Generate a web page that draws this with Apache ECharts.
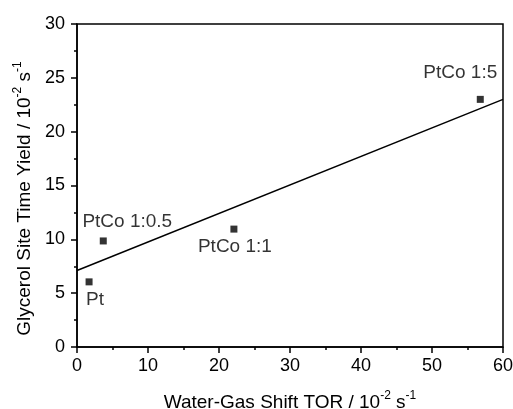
<!DOCTYPE html>
<html>
<head>
<meta charset="utf-8">
<script src="https://cdn.jsdelivr.net/npm/echarts@6/dist/echarts.min.js"></script>
<style>
  html, body { margin: 0; padding: 0; background: #fff; }
  #chart { width: 513px; height: 409px; }
</style>
</head>
<body>
<div id="chart"></div>
<script>
// catalysts and values
var catalystNames = ['Pt', 'PtCo 1:0.5', 'PtCo 1:1', 'PtCo 1:5'];
var wgsTor = [1.7, 3.7, 22.1, 56.8];
var glycerolStY = [6.05, 9.85, 10.95, 23.0];

// linear fit end points
var fitX = [0, 60];
var fitY = [7.1, 23.0];

var xTicks = [0, 10, 20, 30, 40, 50, 60];
var yTicks = [0, 5, 10, 15, 20, 25, 30];

// label centre offset from its marker, px
var labelOffsets = [[6, 18], [24, -19], [1, 18], [-20, -27]];

function chart_draw() {
    var dom = document.getElementById('chart');
    var chart = echarts.init(dom);

    var font = 'Liberation Sans, Arial, sans-serif';
    var pointData = wgsTor.map(function (x, i) {
        return {
            value: [x, glycerolStY[i]],
            name: catalystNames[i],
            label: {
                show: true,
                formatter: catalystNames[i],
                position: 'inside',
                align: 'center',
                verticalAlign: 'middle',
                offset: labelOffsets[i],
                color: '#000',
                fontSize: 19,
                fontFamily: font
            }
        };
    });

    var subRich = {
        n: { fontSize: 19, fontFamily: font, color: '#000', lineHeight: 22, verticalAlign: 'bottom' },
        s: { fontSize: 12, fontFamily: font, color: '#000', lineHeight: 22, verticalAlign: 'top' }
    };

    var option = {
        animation: false,
        grid: {
            left: 77, right: 10, top: 24, bottom: 62,
            outerBoundsMode: 'none',
            containLabel: false,
            show: true, borderColor: '#000', borderWidth: 1.5, backgroundColor: 'transparent'
        },
        xAxis: {
            type: 'value',
            min: xTicks[0],
            max: xTicks[xTicks.length - 1],
            interval: 10,
            name: '{n|Water-Gas Shift TOR / 10}{s|-2}{n| s}{s|-1}',
            nameLocation: 'middle',
            nameGap: 43,
            nameTextStyle: { rich: subRich },
            axisLine: { lineStyle: { color: '#000', width: 1.5 } },
            axisTick: { inside: false, length: 6, lineStyle: { color: '#000', width: 1.5 } },
            minorTick: { show: true, splitNumber: 2, length: 3, lineStyle: { color: '#000', width: 1.5 } },
            axisLabel: { color: '#000', fontSize: 18, fontFamily: font, margin: 10 },
            splitLine: { show: false }
        },
        yAxis: {
            type: 'value',
            min: yTicks[0],
            max: yTicks[yTicks.length - 1],
            interval: 5,
            name: '{n|Glycerol Site Time Yield / 10}{s|-2}{n| s}{s|-1}',
            nameLocation: 'middle',
            nameGap: 33,
            nameTextStyle: { rich: subRich, padding: [0, 26, 0, 0] },
            axisLine: { lineStyle: { color: '#000', width: 1.5 } },
            axisTick: { inside: false, length: 6, lineStyle: { color: '#000', width: 1.5 } },
            minorTick: { show: true, splitNumber: 2, length: 3, lineStyle: { color: '#000', width: 1.5 } },
            axisLabel: { color: '#000', fontSize: 18, fontFamily: font, margin: 12 },
            splitLine: { show: false }
        },
        series: [
            {
                name: 'fit',
                type: 'line',
                data: fitX.map(function (x, i) { return [x, fitY[i]]; }),
                showSymbol: false,
                lineStyle: { color: '#000', width: 1.5 },
                silent: true
            },
            {
                name: 'data',
                type: 'scatter',
                symbol: 'rect',
                symbolSize: 7,
                itemStyle: { color: '#000' },
                data: pointData
            }
        ]
    };

    if (option && typeof option === 'object') {
        chart.setOption(option, true);
    }
}

chart_draw();
</script>
</body>
</html>
